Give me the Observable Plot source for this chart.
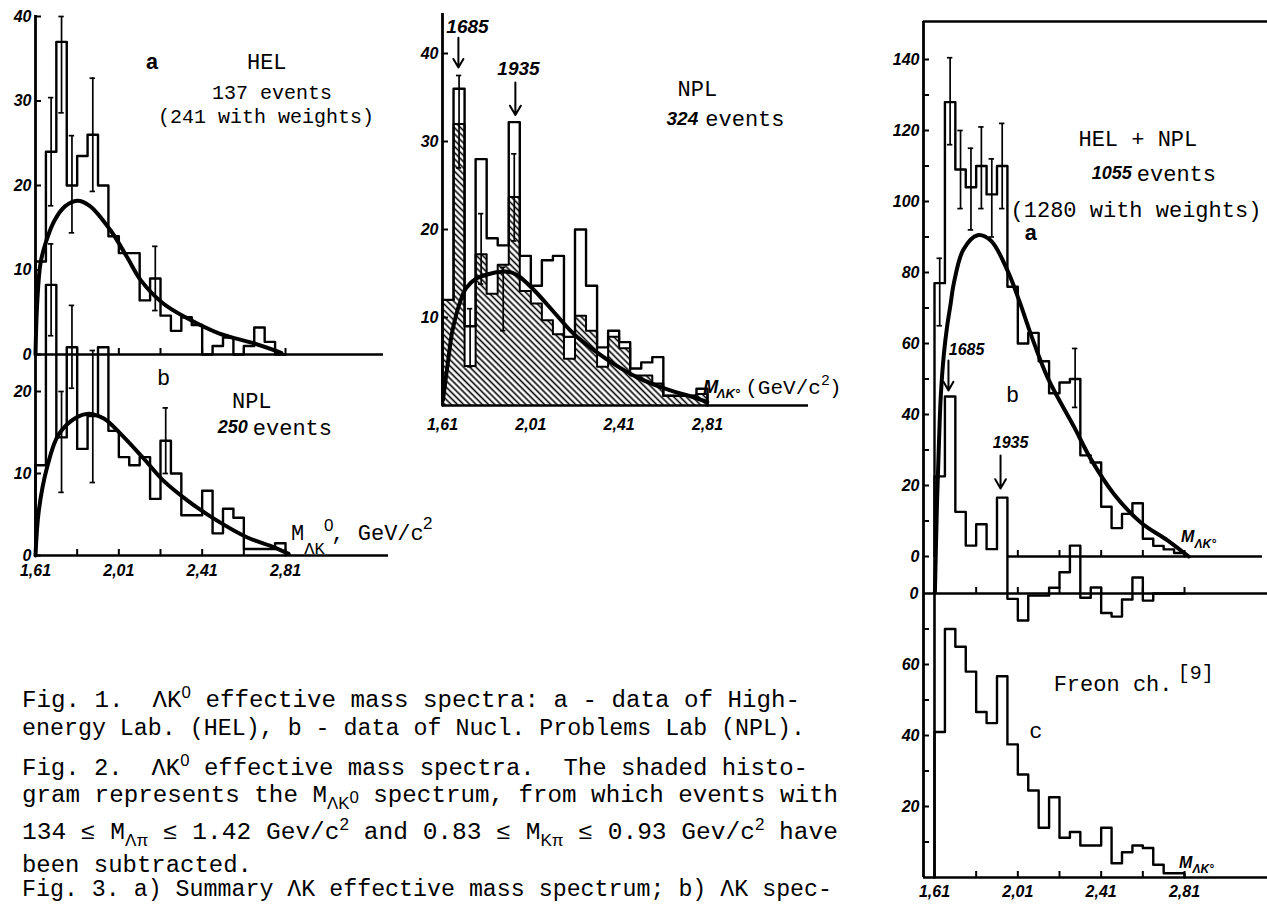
<!DOCTYPE html>
<html><head><meta charset="utf-8">
<script src="https://cdn.jsdelivr.net/npm/d3@7"></script>
<script src="https://cdn.jsdelivr.net/npm/@observablehq/plot@0.6"></script>
<style>
html,body{margin:0;padding:0;background:#fff;}
#fig{position:relative;width:1267px;height:906px;overflow:hidden;background:#fff;}
#fig svg{position:absolute;left:0;top:0;overflow:visible;max-width:none;}
g[aria-label$="tick label"] text{font-family:"Liberation Sans Narrow","Liberation Sans",sans-serif;font-style:italic;font-weight:bold;}
</style></head><body><div id="fig"></div>
<script>
// ---------------- data ----------------
const binStarts = [1.61,1.66,1.71,1.76,1.81,1.86,1.91,1.96,2.01,2.06,2.11,2.16,2.21,2.26,2.31,2.36,2.41,2.46,2.51,2.56,2.61,2.66,2.71,2.76];
const binWidth = 0.05;
const xMinorTicks = [1.61,1.81,2.01,2.21,2.41,2.61,2.81];
const xTickValues = [1.61,2.01,2.41,2.81];
const xTickLabels = ["1,61","2,01","2,41","2,81"];

// Fig. 1a  HEL
const fig1aCounts = [11,24,37,20,23.5,26,20,14,12,12,6.4,9,4.6,2.8,4.4,3.5,0,1,2,0,1,3.2,1.5,0];
const fig1aErrX  = [1.685,1.735,1.785,1.885,2.185];
const fig1aErrLo = [17.6,28.6,14.4,19.3,5.2];
const fig1aErrHi = [30.4,40,25.9,32.7,12.8];
const fig1aFitX = [1.61,1.618,1.634,1.66,1.70,1.75,1.81,1.87,1.97,2.05,2.115,2.22,2.33,2.49,2.66,2.79];
const fig1aFitY = [0,6,10.8,13.3,15.8,17.5,18.2,17.6,14.7,11.5,8.8,6.1,4.4,2.5,1.3,0.2];
const fig1aYTicks = [0,10,20,30,40];

// Fig. 1b  NPL
const fig1bCounts = [11,33,14.4,25.4,13,17,25.4,15.2,12,11,12,6.9,14,10,4.9,4.9,7.9,2.7,5.7,4.6,0.8,0.8,0.8,1.5];
const fig1bErrX  = [1.685,1.735,1.785,1.885,2.235];
const fig1bErrLo = [26.8,7.7,20.4,8.9,10];
const fig1bErrHi = [38,20,30.5,25,18];
const fig1bFitX = [1.61,1.626,1.666,1.722,1.81,1.867,1.938,2.02,2.13,2.225,2.34,2.466,2.627,2.755,2.825];
const fig1bFitY = [0,5.5,10.8,14.8,16.9,17.3,16.7,14.8,11.8,9.1,6.7,4.5,2.2,1.0,0.2];
const fig1bYTicks = [0,10,20];

// Fig. 2  NPL 324 events (total and shaded = subtracted)
const fig2Total  = [12,36,9,28,19,18.2,32.2,17,13.6,16.5,17,7.8,20,13.6,6.6,8.5,7.2,4.2,4.9,5.5,1.1,1.1,1.1,1.9];
const fig2Shaded = [12,32,4.5,17.2,12.7,16,23.7,13,11.6,9.7,8.1,5.3,10.2,8.5,4.4,7.8,6.5,3.4,3.4,2.5,1.1,1.1,1.1,1.3];
const fig2ErrX  = [1.685,1.735,1.785,1.885,1.935];
const fig2ErrLo = [27,4.4,13.8,8.5,18.7];
const fig2ErrHi = [37.5,11,21.8,15.7,28.6];
const fig2FitX = [1.612,1.635,1.655,1.693,1.716,1.761,1.83,1.904,1.949,2.025,2.115,2.206,2.296,2.387,2.492,2.598,2.749,2.809];
const fig2FitY = [0.6,5,8.5,12,13.3,14.4,15,15.2,14.8,13.1,10.6,8.1,6.3,4.7,3.2,2.1,0.9,0.4];
const fig2YTicks = [10,20,30,40];

// Fig. 3  a) HEL+NPL, b) a minus fit, c) Freon chamber
const fig3aCounts = [77,128,109,104,110,102,110,76,60,63,55,46,49,50,28.5,26.5,14,8,12,15,5,3,2,1];
const fig3aErrX  = [1.635,1.685,1.735,1.785,1.835,1.885,1.935,2.285];
const fig3aErrLo = [65,116,98,92,98,90,98,42];
const fig3aErrHi = [84,140.5,120,115,121,112,122,58.6];
const fig3aFitX = [1.612,1.622,1.632,1.64,1.655,1.671,1.687,1.703,1.749,1.817,1.88,1.96,2.02,2.07,2.153,2.28,2.36,2.47,2.60,2.73,2.83];
const fig3aFitY = [-10,15,33,45,57,65,71,77,86.5,90.5,89,80.6,71.5,63,50.4,36.5,27.5,17.7,9.6,4.5,0];
const fig3bCounts = [33,55.5,23,13.5,19.5,12.5,27,-1.5,-7.6,-0.6,-0.6,1.6,6,13.5,-1.2,1.7,-5.5,-6.5,-1.7,4.5,-2,0,0,0];
const fig3cCounts = [41,70,65,58,46.6,43.5,56.7,37.5,29,24.5,14,22.6,11.2,12.8,9,9,14,4,7.1,9,8.3,3.6,1.2,1.2];
const fig3aYTicks = [0,10,20,30,40,50,60,70,80,90,100,110,120,130,140];
const fig3cYTicks = [10,20,30,40,50,60,70];

const captionLines = [
  [["Fig. 1.  \u039BK",""],["0","sup"],[" effective mass spectra: a - data of High-",""]],
  [["energy Lab. (HEL), b - data of Nucl. Problems Lab (NPL).",""]],
  [["Fig. 2.  \u039BK",""],["0","sup"],[" effective mass spectra.  The shaded histo-",""]],
  [["gram represents the M",""],["\u039BK","sub"],["0","subsup"],[" spectrum, from which events with",""]],
  [["134 \u2264 M",""],["\u039B\u03C0","sub"],[" \u2264 1.42 Gev/c",""],["2","sup"],[" and 0.83 \u2264 M",""],["K\u03C0","sub"],[" \u2264 0.93 Gev/c",""],["2","sup"],[" have",""]],
  [["been subtracted.",""]],
  [["Fig. 3. a) Summary \u039BK effective mass spectrum; b) \u039BK spec-",""]]
];

// ---------------- helpers ----------------
const W = 1267, H = 906;
const mono = '"Liberation Mono","DejaVu Sans Mono",monospace';
const sans = '"Liberation Sans","DejaVu Sans",sans-serif';
const narrow = '"Liberation Sans Narrow","Liberation Sans",sans-serif';
const sty = {background: "transparent", overflow: "visible"};

function steps(values) {
  const pts = [{x: binStarts[0], y: 0}];
  values.forEach((v, i) => pts.push({x: binStarts[i], y: v}));
  pts.push({x: binStarts[values.length - 1] + binWidth, y: 0});
  return pts;
}
function errorMarks(X, Lo, Hi, cap = 0.013) {
  const d = X.map((x, i) => ({x, lo: Lo[i], hi: Hi[i]}));
  return [
    Plot.ruleX(d, {x: "x", y1: "lo", y2: "hi", strokeWidth: 1.7}),
    Plot.ruleY(d, {y: "hi", x1: e => e.x - cap, x2: e => e.x + cap, strokeWidth: 1.7}),
    Plot.ruleY(d, {y: "lo", x1: e => e.x - cap, x2: e => e.x + cap, strokeWidth: 1.7})
  ];
}
function label(x, y, text, o = {}) {
  return Plot.text([{x, y, text}], {x: "x", y: "y", text: "text", fontFamily: mono, fontSize: 22,
    fill: "black", textAnchor: "middle", lineAnchor: "middle", ...o});
}
const bi = (size) => ({fontFamily: narrow, fontWeight: "bold", fontStyle: "italic", fontSize: size});
const fmtX = d => { const i = xTickValues.indexOf(d); return i >= 0 ? xTickLabels[i] : ""; };
const yAxis = (ticks, fmt) => Plot.axisY({ticks, tickSize: -6, tickPadding: 10, strokeWidth: 2, label: null,
  fontSize: 16, tickFormat: fmt || (d => String(d))});
const fit = (X, Y) => Plot.line(X, {x: X, y: Y, curve: "catmull-rom", strokeWidth: 4});
const hist = (vals, w = 2.4) => Plot.line(steps(vals), {x: "x", y: "y", curve: "step-after", strokeWidth: w});

const fig = document.getElementById("fig");

// ---------------- Fig. 1a ----------------
const x1s = {domain: [1.61, 2.81], range: [35, 285], axis: null};
fig.append(Plot.plot({
  width: W, height: H, style: sty,
  marginLeft: 35, marginRight: W - 383, marginTop: 15, marginBottom: H - 354,
  x: x1s, y: {domain: [0, 40], range: [354, 16], axis: null},
  marks: [
    Plot.ruleY([0], {strokeWidth: 2.6}),
    yAxis(fig1aYTicks),
    Plot.axisX({ticks: xMinorTicks.slice(1), tickSize: -6, tickFormat: () => "", label: null, strokeWidth: 2}),
    hist(fig1aCounts),
    ...errorMarks(fig1aErrX, fig1aErrLo, fig1aErrHi),
    fit(fig1aFitX, fig1aFitY),
    label(2.17, 34.6, "a", {fontWeight: "bold"}),
    label(2.72, 34.6, "HEL"),
    label(2.745, 31.0, "137 events", {fontSize: 20}),
    label(2.716, 28.1, "(241 with weights)", {fontSize: 20})
  ]
}));

// ---------------- Fig. 1b ----------------
fig.append(Plot.plot({
  width: W, height: H, style: sty,
  marginLeft: 35, marginRight: W - 388, marginTop: 15, marginBottom: H - 555,
  x: x1s, y: {domain: [0, 20], range: [555, 391], axis: null},
  marks: [
    Plot.ruleX([1.61], {strokeWidth: 2.8}),
    Plot.ruleY([0], {strokeWidth: 2.6}),
    yAxis(fig1bYTicks),
    Plot.axisX({ticks: xMinorTicks, tickSize: -6, tickPadding: 15, tickFormat: fmtX, label: null, strokeWidth: 2, fontSize: 16}),
    hist(fig1bCounts),
    ...errorMarks(fig1bErrX, fig1bErrLo, fig1bErrHi),
    fit(fig1bFitX, fig1bFitY),
    label(2.225, 21.7, "b"),
    label(2.648, 18.9, "NPL"),
    label(2.629, 15.6, "250", {textAnchor: "end", ...bi(18)}),
    label(2.653, 15.6, "events", {textAnchor: "start"}),
    label(2.836, 2.7, "M", {textAnchor: "start"}),
    label(2.900, 0.9, "\u039BK", {textAnchor: "start", fontSize: 17}),
    label(2.995, 3.6, "0", {textAnchor: "start", fontSize: 17, fontFamily: sans}),
    label(3.030, 2.7, ", GeV/c", {textAnchor: "start"}),
    label(3.470, 3.9, "2", {textAnchor: "start", fontSize: 17, fontFamily: sans})
  ]
}));

// ---------------- Fig. 2 ----------------
const p2 = Plot.plot({
  width: W, height: H, style: sty,
  marginLeft: 442, marginRight: W - 808, marginTop: 13, marginBottom: H - 405,
  x: {domain: [1.61, 2.81], range: [442, 707], axis: null},
  y: {domain: [0, 40], range: [405, 53], axis: null},
  marks: [
    Plot.areaY(steps(fig2Shaded), {x: "x", y: "y", curve: "step-after", fill: "url(#hatch)"}),
    hist(fig2Shaded, 2),
    hist(fig2Total, 2.4),
    Plot.ruleX([1.61], {strokeWidth: 2.8}),
    Plot.ruleY([0], {strokeWidth: 2.6}),
    yAxis(fig2YTicks),
    Plot.axisX({ticks: xTickValues, tickSize: 0, tickPadding: 13, tickFormat: fmtX, label: null, fontSize: 16}),
    ...errorMarks(fig2ErrX, fig2ErrLo, fig2ErrHi, 0.012),
    fit(fig2FitX, fig2FitY),
    Plot.arrow([{x: 1.682, a: 41.8, b: 38.4}, {x: 1.94, a: 36.7, b: 33}], {x1: "x", x2: "x", y1: "a", y2: "b", strokeWidth: 2, headLength: 9}),
    label(1.723, 43, "1685", bi(19)),
    label(1.954, 38.3, "1935", bi(19)),
    label(2.764, 36, "NPL"),
    label(2.768, 32.6, "324", {textAnchor: "end", ...bi(19)}),
    label(2.80, 32.6, "events", {textAnchor: "start"}),
    label(2.791, 2.05, "M", {textAnchor: "start", ...bi(18)}),
    label(2.852, 1.3, "\u039BK\u00B0", {textAnchor: "start", ...bi(13)}),
    label(2.981, 2.05, "(GeV/c", {textAnchor: "start", fontSize: 21}),
    label(3.325, 2.9, "2", {textAnchor: "start", fontSize: 15, fontFamily: sans}),
    label(3.360, 2.05, ")", {textAnchor: "start", fontSize: 21})
  ]
});
{
  const defs = d3.select(p2).insert("defs", ":first-child");
  const pat = defs.append("pattern").attr("id", "hatch").attr("patternUnits", "userSpaceOnUse")
    .attr("width", 4.4).attr("height", 4.4).attr("patternTransform", "rotate(-45)");
  pat.append("line").attr("x1", 2.2).attr("y1", 0).attr("x2", 2.2).attr("y2", 4.4)
    .attr("stroke", "#000").attr("stroke-width", 1.6);
}
fig.append(p2);

// ---------------- Fig. 3 ----------------
const x3s = {domain: [1.61, 2.81], range: [934, 1184], axis: null};
const frameLeft3 = 1.61 + (923 - 934) * 1.2 / 250;
const frameRight3 = 1.61 + (1262 - 934) * 1.2 / 250;
const frameTop3a = 140 * (556 - 21) / (556 - 59);
const m3 = {marginLeft: 923, marginRight: 0, marginTop: 21, marginBottom: 29};

fig.append(Plot.plot({
  width: W, height: H, style: sty, ...m3,
  x: x3s, y: {domain: [0, 140], range: [556, 59], axis: null},
  marks: [
    Plot.ruleX([frameLeft3], {strokeWidth: 2.8}),
    Plot.ruleY([frameTop3a], {strokeWidth: 2.4}),
    Plot.ruleY([0], {x1: 1.96, x2: frameRight3, strokeWidth: 2.4}),
    Plot.ruleX(xMinorTicks.slice(2), {y1: 0, y2: 1.7, strokeWidth: 2}),
    yAxis(fig3aYTicks, d => d % 20 === 0 ? String(d) : ""),
    hist(fig3aCounts),
    ...errorMarks(fig3aErrX, fig3aErrLo, fig3aErrHi),
    fit(fig3aFitX, fig3aFitY),
    label(2.586, 117.7, "HEL + NPL"),
    label(2.557, 107.9, "1055", {textAnchor: "end", ...bi(18)}),
    label(2.581, 107.9, "events", {textAnchor: "start"}),
    label(1.975, 97.5, "(1280 with weights)", {textAnchor: "start"}),
    label(2.072, 91, "a", {fontWeight: "bold"}),
    label(2.793, 5.4, "M", {textAnchor: "start", ...bi(16)}),
    label(2.858, 3.6, "\u039BK\u00B0", {textAnchor: "start", ...bi(12)})
  ]
}));

fig.append(Plot.plot({
  width: W, height: H, style: sty, ...m3,
  x: x3s, y: {domain: [0, 60], range: [593, 380], axis: null},
  marks: [
    Plot.ruleY([0], {strokeWidth: 2.4}),
    Plot.ruleX(xMinorTicks.slice(1), {y1: 0, y2: 1.7, strokeWidth: 2}),
    Plot.axisY({ticks: [0], tickSize: 0, tickPadding: 5, label: null, fontSize: 16}),
    hist(fig3bCounts),
    Plot.arrow([{x: 1.677, a: 65.6, b: 57.2}, {x: 1.927, a: 38.9, b: 29.6}], {x1: "x", x2: "x", y1: "a", y2: "b", strokeWidth: 2, headLength: 8}),
    label(1.764, 68.5, "1685", bi(16)),
    label(1.985, 55.8, "b"),
    label(1.975, 42.5, "1935", bi(16))
  ]
}));

fig.append(Plot.plot({
  width: W, height: H, style: sty, ...m3,
  x: x3s, y: {domain: [0, 60], range: [877, 664], axis: null},
  marks: [
    Plot.ruleY([0], {strokeWidth: 2.6}),
    Plot.ruleX([1.61], {y1: 0, y2: 80, strokeWidth: 2.6}),
    yAxis(fig3cYTicks, d => d % 20 === 0 ? String(d) : ""),
    Plot.axisX({ticks: xMinorTicks, tickSize: -6, tickPadding: 14, tickFormat: fmtX, label: null, strokeWidth: 2, fontSize: 16}),
    hist(fig3cCounts),
    label(2.182, 54.6, "Freon ch.", {textAnchor: "start"}),
    label(2.778, 57.6, "[9]", {textAnchor: "start", fontSize: 20}),
    label(2.096, 41.4, "c"),
    label(2.783, 4.2, "M", {textAnchor: "start", ...bi(16)}),
    label(2.848, 2.4, "\u039BK\u00B0", {textAnchor: "start", ...bi(12)})
  ]
}));

// ---------------- captions ----------------
const capX = 22;
const capBase = [707, 735, 775, 802, 839, 872, 896];
const capEnd = [800, 805, 808, 838, 838, 252, 832];
const cap = d3.create("svg").attr("width", W).attr("height", H);
captionLines.forEach((parts, i) => {
  const t = cap.append("text").attr("x", capX).attr("y", capBase[i])
    .attr("textLength", capEnd[i] - capX).attr("lengthAdjust", "spacingAndGlyphs")
    .attr("font-family", mono).attr("font-size", 23).attr("fill", "#000")
    .style("white-space", "pre");
  let cur = 0;
  parts.forEach(([s, kind]) => {
    const shift = kind === "sup" ? -9 : kind === "sub" ? 7 : kind === "subsup" ? 1 : 0;
    const ts = t.append("tspan").attr("dy", shift - cur).attr("font-size", kind ? 16 : 23).text(s);
    if (kind) ts.attr("font-family", sans);
    cur = shift;
  });
});
fig.append(cap.node());
</script>
</body></html>
